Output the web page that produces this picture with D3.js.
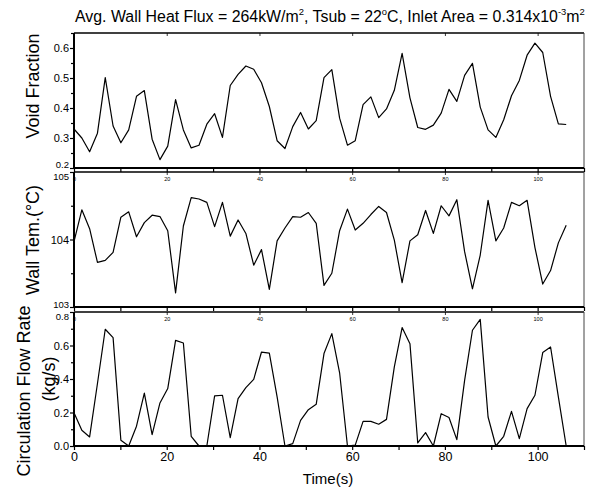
<!DOCTYPE html>
<html><head><meta charset="utf-8">
<script src="https://cdn.jsdelivr.net/npm/d3@7"></script>
<style>
body{margin:0;background:#fff;}
text{font-family:"Liberation Sans",Arial,sans-serif;fill:#000;}
</style></head>
<body><svg id="c" width="591" height="491"></svg>
<script>
const time = [0,1.69,3.37,5.06,6.74,8.43,10.11,11.80,13.48,15.17,16.85,18.54,20.22,21.91,23.59,25.28,26.96,28.65,30.33,32.02,33.70,35.39,37.07,38.76,40.44,42.13,43.81,45.50,47.18,48.87,50.55,52.24,53.92,55.61,57.29,58.98,60.66,62.35,64.03,65.72,67.40,69.09,70.77,72.46,74.14,75.83,77.51,79.20,80.88,82.57,84.25,85.94,87.62,89.31,90.99,92.68,94.36,96.05,97.73,99.42,101.10,102.79,104.47,106.16];
const voidFraction = [0.33,0.30,0.254,0.316,0.501,0.340,0.284,0.327,0.439,0.458,0.296,0.228,0.273,0.428,0.327,0.267,0.276,0.346,0.381,0.302,0.475,0.512,0.540,0.529,0.484,0.405,0.291,0.265,0.338,0.385,0.330,0.358,0.501,0.528,0.366,0.276,0.291,0.411,0.437,0.368,0.397,0.459,0.582,0.434,0.335,0.329,0.343,0.383,0.462,0.422,0.509,0.549,0.403,0.327,0.302,0.361,0.441,0.492,0.576,0.616,0.585,0.439,0.347,0.345];
const wallTemp = [103.97,104.44,104.16,103.66,103.69,103.81,104.33,104.41,104.04,104.25,104.36,104.34,104.13,103.21,104.20,104.62,104.60,104.55,104.19,104.55,104.05,104.29,104.09,103.62,103.85,103.26,103.98,104.17,104.34,104.33,104.40,104.24,103.32,103.50,104.13,104.45,104.14,104.24,104.37,104.49,104.40,103.99,103.36,103.98,104.07,104.43,104.09,104.50,104.35,104.59,103.82,103.27,103.77,104.58,103.98,104.17,104.55,104.50,104.58,103.88,103.34,103.54,103.95,104.21];
const flowRate = [0.199,0.094,0.054,0.373,0.697,0.647,0.034,0.0,0.118,0.316,0.068,0.257,0.343,0.631,0.615,0.058,0.0,0.0,0.299,0.303,0.050,0.283,0.349,0.398,0.561,0.555,0.293,0.0,0.014,0.153,0.217,0.249,0.552,0.671,0.437,0.0,0.005,0.147,0.147,0.130,0.159,0.472,0.707,0.611,0.018,0.080,0.0,0.193,0.170,0.038,0.392,0.691,0.756,0.173,0.0,0.058,0.207,0.044,0.223,0.303,0.558,0.591,0.293,0.0];
const xTicks = [0,20,40,60,80,100];
const yTicks1 = [0.2,0.3,0.4,0.5,0.6];
const yTicks2 = [103,104,105];
const yTicks3 = [0.0,0.2,0.4,0.6,0.8];

const svg = d3.select("#c");
const L = 74, R = 584;
const x = d3.scaleLinear().domain([0,110]).range([L,R]);

const panels = [
  {data: voidFraction, top:33, bottom:168, dom:[0.2,0.65], ticks:yTicks1, minor:[0.25,0.35,0.45,0.55,0.65], fmt:d3.format(".1f"), topLabels:false, bottomLabels:false, nudgeLow:-4, nudgeHigh:0, shrinkLow:true, shrinkHigh:false},
  {data: wallTemp, top:172, bottom:307, dom:[103,105], ticks:yTicks2, minor:[103.5,104.5], fmt:d3.format("d"), topLabels:true, bottomLabels:false, nudgeLow:-3, nudgeHigh:4, shrinkLow:true, shrinkHigh:true},
  {data: flowRate, top:312, bottom:446, dom:[0,0.8], ticks:yTicks3, minor:[0.1,0.3,0.5,0.7], fmt:d3.format(".1f"), topLabels:true, bottomLabels:true, nudgeLow:0, nudgeHigh:4, shrinkLow:false, shrinkHigh:true}
];
const minorX = [10,30,50,70,90,110];

panels.forEach(p => {
  const y = d3.scaleLinear().domain(p.dom).range([p.bottom,p.top]);
  const g = svg.append("g");
  g.append("line").attr("x1",L).attr("x2",R).attr("y1",p.top).attr("y2",p.top).attr("stroke","#000").attr("stroke-width",1.3);
  g.append("line").attr("x1",R).attr("x2",R).attr("y1",p.top).attr("y2",p.bottom).attr("stroke","#444").attr("stroke-width",1);
  const tt = g.append("g").attr("transform",`translate(0,${p.top})`)
    .call(d3.axisBottom(x).tickValues(xTicks).tickSize(3).tickFormat(p.topLabels? d3.format("d") : ""));
  tt.select(".domain").remove();
  tt.selectAll("line").attr("stroke","#000").attr("stroke-width",0.8);
  tt.selectAll("text").attr("font-size","5.5px").attr("dy","0.5em").attr("fill","#444");
  const bx = g.append("g").attr("transform",`translate(0,${p.bottom})`)
    .call(d3.axisBottom(x).tickValues(xTicks).tickSize(4).tickPadding(2).tickFormat(p.bottomLabels? d3.format("d") : ""));
  bx.select(".domain").attr("stroke-width",2).attr("d",`M${L},0H${R}`);
  bx.selectAll("line").attr("stroke-width",1.2);
  bx.selectAll("text").attr("font-size","12.5px");
  const bm = g.append("g").attr("transform",`translate(0,${p.bottom})`)
    .call(d3.axisBottom(x).tickValues(minorX).tickSize(4).tickFormat(""));
  bm.select(".domain").remove();
  bm.selectAll("line").attr("stroke-width",1.2);
  const ly = g.append("g").attr("transform",`translate(${L},0)`)
    .call(d3.axisLeft(y).tickValues(p.ticks).tickSize(4).tickPadding(1).tickFormat(p.fmt));
  ly.select(".domain").attr("stroke-width",2).attr("d",`M0,${p.top}V${p.bottom}`);
  ly.selectAll("line").attr("stroke-width",1.2);
  ly.selectAll("text")
    .attr("font-size",(d,i,n)=> (i===0 && p.shrinkLow) || (i===n.length-1 && p.shrinkHigh) ? "9.5px" : "11px")
    .attr("y",(d,i,n)=> i===0 ? p.nudgeLow : (i===n.length-1 ? p.nudgeHigh : 0));
  const lm = g.append("g").attr("transform",`translate(${L},0)`)
    .call(d3.axisLeft(y).tickValues(p.minor).tickSize(3).tickFormat(""));
  lm.select(".domain").remove();
  lm.selectAll("line").attr("stroke-width",1.2);
  const line = d3.line().x((d,i)=>x(time[i])).y(d=>y(d));
  g.append("path").datum(p.data).attr("d",line).attr("fill","none").attr("stroke","#000").attr("stroke-width",1.2).attr("stroke-linejoin","round");
});

const title = svg.append("text").attr("x",0).attr("y",22).attr("font-size","16px");
const parts = [["Avg. Wall Heat Flux = 264kW/m",0],["2",1],[", Tsub = 22",0],["o",1],["C, Inlet Area = 0.314x10",0],["-3",1],["m",0],["2",1]];
parts.forEach(([t,s],i)=>{
  const ts = title.append("tspan").text(t);
  if (s) ts.attr("font-size","9.5px").attr("dy",-6.5);
  else if (i>0 && parts[i-1][1]) ts.attr("dy",6.5);
});
{
  const w = title.node().getComputedTextLength();
  const target = 510, x0 = 75;
  title.attr("transform",`translate(${x0},0) scale(${target/w},1)`);
}

function ylab(txt,cx,cy,size){
  svg.append("text").attr("transform",`translate(${cx},${cy}) rotate(-90)`).attr("text-anchor","middle")
    .attr("font-size",size).text(txt);
}
ylab("Void Fraction",39,86,"18px");
ylab("Wall Tem.(°C)",39,240,"18px");
ylab("Circulation Flow Rate",30,391,"18px");
ylab("(kg/s)",55,379,"18px");

svg.append("text").attr("x",328).attr("y",484).attr("text-anchor","middle").attr("font-size","15px").text("Time(s)");
</script></body></html>
